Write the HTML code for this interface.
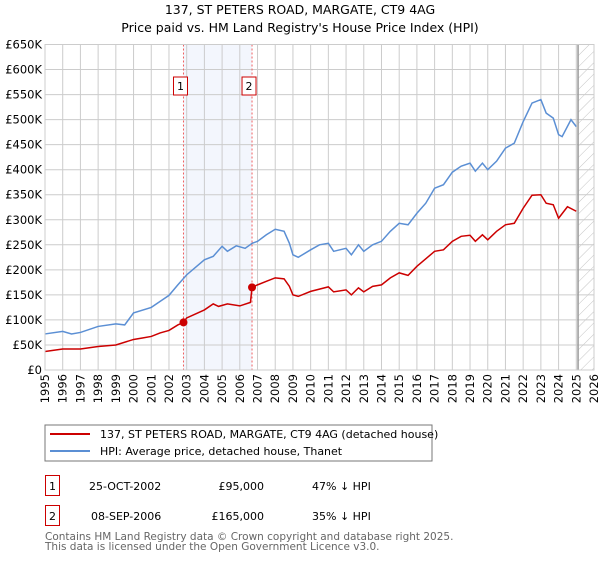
<!DOCTYPE html>
<html><head><meta charset="utf-8"><style>
body{margin:0;background:#fff;font-family:"DejaVu Sans","Liberation Sans",sans-serif;}
svg text{font-family:"DejaVu Sans","Liberation Sans",sans-serif;}
</style></head><body>
<svg id="c" width="600" height="560" xmlns="http://www.w3.org/2000/svg">
<text x="300" y="14" text-anchor="middle" font-size="12.5">137, ST PETERS ROAD, MARGATE, CT9 4AG</text>
<text x="300" y="32" text-anchor="middle" font-size="12.5">Price paid vs. HM Land Registry's House Price Index (HPI)</text>
<defs><pattern id="hatch" width="8" height="8" patternUnits="userSpaceOnUse" patternTransform="rotate(45)"><line x1="0" y1="0" x2="0" y2="8" stroke="#c4c4c4" stroke-width="1"/></pattern></defs>
<g id="plot"></g>
<rect x="45" y="425" width="387" height="36" fill="#fff" stroke="#777"/>
<line x1="50" y1="434" x2="90" y2="434" stroke="#cc0000" stroke-width="2"/>
<text x="100" y="438" font-size="11">137, ST PETERS ROAD, MARGATE, CT9 4AG (detached house)</text>
<line x1="50" y1="451" x2="90" y2="451" stroke="#5b8fd4" stroke-width="2"/>
<text x="100" y="455" font-size="11">HPI: Average price, detached house, Thanet</text>
<rect x="45.5" y="475.5" width="14" height="20" fill="#fff" stroke="#cc0000"/>
<text x="52.5" y="490" font-size="11" text-anchor="middle">1</text>
<text x="89" y="490" font-size="11">25-OCT-2002</text>
<text x="264" y="490" font-size="11" text-anchor="end">£95,000</text>
<text x="312" y="490" font-size="11">47% ↓ HPI</text>
<rect x="45.5" y="505.5" width="14" height="20" fill="#fff" stroke="#cc0000"/>
<text x="52.5" y="520" font-size="11" text-anchor="middle">2</text>
<text x="91" y="520" font-size="11">08-SEP-2006</text>
<text x="264" y="520" font-size="11" text-anchor="end">£165,000</text>
<text x="312" y="520" font-size="11">35% ↓ HPI</text>
<text x="45" y="540" font-size="10.5" fill="#666">Contains HM Land Registry data © Crown copyright and database right 2025.</text>
<text x="45" y="550" font-size="10.5" fill="#666">This data is licensed under the Open Government Licence v3.0.</text>
</svg>
<script>
const hpiYears=[1995,1996,1996.5,1997,1998,1999,1999.5,2000,2001,2001.5,2002,2002.5,2003,2003.5,2004,2004.5,2005,2005.3,2005.8,2006.3,2006.7,2007,2007.5,2008,2008.5,2008.8,2009,2009.3,2010,2010.5,2011,2011.3,2012,2012.3,2012.7,2013,2013.5,2014,2014.5,2015,2015.5,2016,2016.5,2017,2017.5,2018,2018.5,2019,2019.3,2019.7,2020,2020.5,2021,2021.5,2022,2022.5,2023,2023.3,2023.7,2024,2024.2,2024.7,2025];
const hpiValues=[72,77,72,75,87,92,90,114,125,137,149,170,190,205,220,227,247,237,248,243,253,257,270,281,277,253,230,225,240,250,253,237,243,230,250,237,250,257,277,293,290,313,333,363,370,395,407,413,397,413,400,417,443,453,496,533,540,513,503,470,466,500,486];
const propYears=[1995,1996,1997,1998,1999,2000,2000.5,2001,2001.5,2002,2002.5,2002.82,2003,2004,2004.5,2004.8,2005.3,2006,2006.6,2006.69,2007,2007.5,2008,2008.5,2008.8,2009,2009.3,2010,2011,2011.3,2012,2012.3,2012.7,2013,2013.5,2014,2014.5,2015,2015.5,2016,2016.5,2017,2017.5,2018,2018.5,2019,2019.3,2019.7,2020,2020.5,2021,2021.5,2022,2022.5,2023,2023.3,2023.7,2024,2024.5,2025];
const propValues=[37,42,42,47,50,61,64,67,74,79,90,95,104,120,132,127,132,128,135,165,170,177,184,182,167,150,147,157,166,156,160,150,164,156,167,170,184,194,189,207,222,237,240,257,267,269,257,270,260,277,290,293,323,349,350,333,330,303,326,317];
const saleYears=[2002.82,2006.69];
const saleValues=[95,165];
const saleLabels=["1","2"];
const yTicks=[0,50,100,150,200,250,300,350,400,450,500,550,600,650];
const xTicks=[1995,1996,1997,1998,1999,2000,2001,2002,2003,2004,2005,2006,2007,2008,2009,2010,2011,2012,2013,2014,2015,2016,2017,2018,2019,2020,2021,2022,2023,2024,2025,2026];
const dataEnd=2025.1;

const X0=45,X1=594,Y0=370,Y1=44.5;
const x=v=>X0+(v-1995)/(2026-1995)*(X1-X0);
const y=v=>Y0-v/650*(Y0-Y1);
const NS="http://www.w3.org/2000/svg";
const g=document.getElementById('plot');
function mk(t,a){const e=document.createElementNS(NS,t);for(const k in a)e.setAttribute(k,a[k]);g.appendChild(e);return e;}
let e;
e=mk('rect',{x:x(saleYears[0]),y:Y1,width:x(saleYears[1])-x(saleYears[0]),height:Y0-Y1,fill:'#f3f6fd'});


e=mk('rect',{x:x(dataEnd),y:Y1,width:X1-x(dataEnd),height:Y0-Y1,fill:'url(#hatch)'});


yTicks.forEach(v=>{
 e=mk('line',{x1:X0,x2:X1,y1:y(v),y2:y(v),stroke:'#ccc'});
 
 
 e=mk('text',{x:X0-3,y:y(v)+4,'text-anchor':'end','font-size':'11.5'});e.textContent=v===0?'£0':'£'+v+'K';
 
 
});
xTicks.forEach(v=>{
 e=mk('line',{x1:x(v),x2:x(v),y1:Y1,y2:Y0,stroke:'#ccc'});
 
 
 e=mk('text',{transform:`translate(${x(v)+4},${Y0+4}) rotate(-90)`,'text-anchor':'end','font-size':'11.5'});e.textContent=v;
 
 
});
e=mk('line',{x1:x(dataEnd),x2:x(dataEnd),y1:Y1,y2:Y0,stroke:'#999','stroke-width':1.5});


saleYears.forEach((s,i)=>{
 e=mk('line',{x1:x(s),x2:x(s),y1:Y1,y2:Y0,stroke:'#f06060','stroke-dasharray':'2,2'});
 
 
});
e=mk('polyline',{points:hpiYears.map((t,i)=>x(t)+','+y(hpiValues[i])).join(' '),fill:'none',stroke:'#5b8fd4','stroke-width':1.5});


e=mk('polyline',{points:propYears.map((t,i)=>x(t)+','+y(propValues[i])).join(' '),fill:'none',stroke:'#cc0000','stroke-width':1.5});


saleYears.forEach((s,i)=>{
 e=mk('circle',{cx:x(s),cy:y(saleValues[i]),r:4,fill:'#cc0000'});
 
 
 e=mk('rect',{x:x(s)-10,y:77,width:14,height:18,fill:'#fff',stroke:'#cc0000'});
 
 
 e=mk('text',{x:x(s)-3,y:90,'text-anchor':'middle','font-size':'11'});e.textContent=saleLabels[i];
 
 
});
e=mk('rect',{x:X0,y:Y1,width:X1-X0,height:Y0-Y1,fill:'none',stroke:'#ccc'});


</script>
</body></html>
